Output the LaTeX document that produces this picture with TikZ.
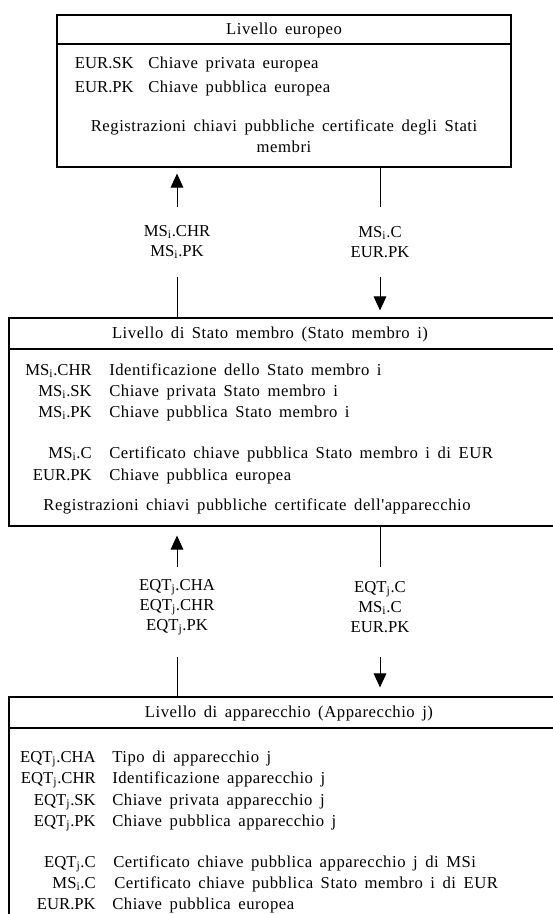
\documentclass[tikz,border=0pt]{standalone}
\usepackage{fontspec}
\setmainfont{Liberation Serif}
\newfontfamily\bodyfont[LetterSpace=3.2,WordSpace=1.6]{Liberation Serif}
\usetikzlibrary{arrows.meta,fit}
\newcommand\MSi{MS\textsubscript{i}}
\newcommand\EQTj{EQT\textsubscript{j}}
\begin{document}
\begin{tikzpicture}[x=0.75pt,y=-0.75pt,
  frame/.style={draw, line width=0.9pt, inner sep=0pt},
  txt/.style={inner sep=0pt, font=\fontsize{12.5}{15}\selectfont},
  btxt/.style={inner sep=0pt, font=\fontsize{12.5}{15}\bodyfont},
  keyl/.style={txt, anchor=base east},
  desc/.style={btxt, anchor=base west},
  head/.style={btxt, anchor=base},
  flow/.style={txt, align=center, minimum height=52.5pt},
  flowt/.style={txt, align=center, minimum height=60pt},
  conn/.style={line width=0.75pt},
  arr/.style={conn, -{Triangle[length=10.5pt,width=9.5pt]}}
]
\useasboundingbox (0,0) rectangle (553,914);
\clip (0,0) rectangle (553,914);

% ---- boxes
\coordinate (eua) at (57,15);  \coordinate (eub) at (511,167);
\node[frame, fit=(eua)(eub)] (eu) {};
\coordinate (msa) at (9,318);  \coordinate (msb) at (570,526);
\node[frame, fit=(msa)(msb)] (ms) {};
\coordinate (eqa) at (9,697);  \coordinate (eqb) at (570,940);
\node[frame, fit=(eqa)(eqb)] (eq) {};
\draw[line width=0.9pt] (57,44) -- (511,44);
\draw[line width=0.9pt] (9,349) -- (570,349);
\draw[line width=0.9pt] (9,728) -- (570,728);

% ---- top box text
\node[head] (euh) at (284,34) {Livello europeo};
\node[keyl] (k1) at (134,68) {EUR.SK};
\node[desc] (d1) at (148,68) {Chiave privata europea};
\node[keyl] (k2) at (134,92) {EUR.PK};
\node[desc] (d2) at (148,92) {Chiave pubblica europea};
\node[head] (r1) at (284,131) {Registrazioni chiavi pubbliche certificate degli Stati};
\node[head] (r2) at (284,152) {membri};

% ---- middle box text
\node[head] (msh) at (270,338) {Livello di Stato membro (Stato membro i)};
\node[keyl] (m1) at (92,375) {\MSi.CHR};
\node[desc] (n1) at (109,375) {Identificazione dello Stato membro i};
\node[keyl] (m2) at (92,396) {\MSi.SK};
\node[desc] (n2) at (109,396) {Chiave privata Stato membro i};
\node[keyl] (m3) at (92,417) {\MSi.PK};
\node[desc] (n3) at (109,417) {Chiave pubblica Stato membro i};
\node[keyl] (m4) at (92,458) {\MSi.C};
\node[desc] (n4) at (109,458) {Certificato chiave pubblica Stato membro i di EUR};
\node[keyl] (m5) at (92,480) {EUR.PK};
\node[desc] (n5) at (109,480) {Chiave pubblica europea};
\node[head] (mr) at (257,510) {Registrazioni chiavi pubbliche certificate dell'apparecchio};

% ---- bottom box text
\node[head] (eqh) at (289,717) {Livello di apparecchio (Apparecchio j)};
\node[keyl] (e1) at (96,762) {\EQTj.CHA};
\node[desc] (f1) at (112,762) {Tipo di apparecchio j};
\node[keyl] (e2) at (96,783) {\EQTj.CHR};
\node[desc] (f2) at (112,783) {Identificazione apparecchio j};
\node[keyl] (e3) at (96,805) {\EQTj.SK};
\node[desc] (f3) at (112,805) {Chiave privata apparecchio j};
\node[keyl] (e4) at (96,826) {\EQTj.PK};
\node[desc] (f4) at (112,826) {Chiave pubblica apparecchio j};
\node[keyl] (e5) at (96,867) {\EQTj.C};
\node[desc] (f5) at (113,867) {Certificato chiave pubblica apparecchio j di MSi};
\node[keyl] (e6) at (96,888) {\MSi.C};
\node[desc] (f6) at (114,888) {Certificato chiave pubblica Stato membro i di EUR};
\node[keyl] (e7) at (96,909) {EUR.PK};
\node[desc] (f7) at (112,909) {Chiave pubblica europea};

% ---- flow labels
\node[flow] (up1) at (177,242) {\MSi.CHR\\\MSi.PK};
\node[flow] (dn1) at (380,242) {\MSi.C\\EUR.PK};
\node[flowt] (up2) at (177,607) {\EQTj.CHA\\\EQTj.CHR\\\EQTj.PK};
\node[flowt] (dn2) at (380,607) {\EQTj.C\\\MSi.C\\EUR.PK};

% ---- connectors
\draw[conn] (ms.north -| up1) -- (up1.south);
\draw[arr, shorten >=4.5pt] (up1.north) -- (eu.south -| up1);
\draw[conn] (eu.south -| dn1) -- (dn1.north);
\draw[arr, shorten >=5.25pt] (dn1.south) -- (ms.north -| dn1);
\draw[conn, shorten <=7.5pt] (up2.south) -- (eq.north -| up2);
\draw[arr, shorten >=6.75pt] (up2.north) -- (ms.south -| up2);
\draw[conn] (ms.south -| dn2) -- (dn2.north);
\draw[arr, shorten <=7.5pt, shorten >=6.75pt] (dn2.south) -- (eq.north -| dn2);
\end{tikzpicture}
\end{document}
